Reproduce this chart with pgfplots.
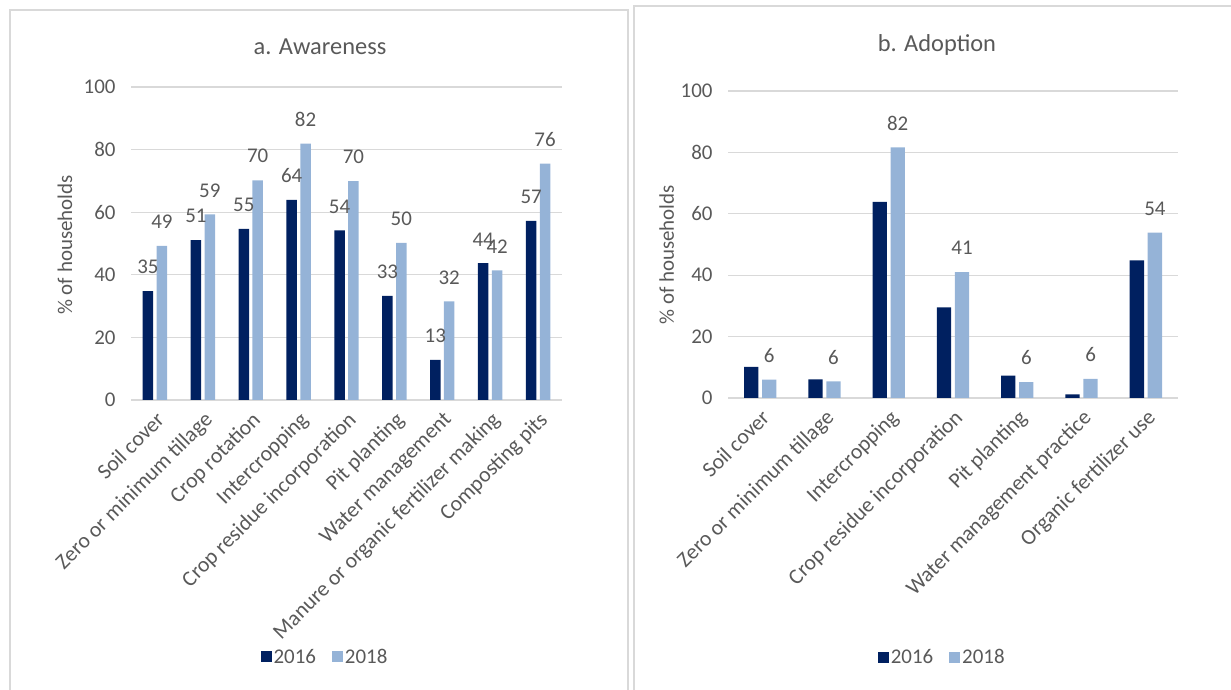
\documentclass[border=0pt]{standalone}
\usepackage{pgfplots}
\pgfplotsset{compat=1.18}
\usepackage{fontspec}
\setmainfont{Carlito}
\definecolor{navy}{HTML}{002060}
\definecolor{lblue}{HTML}{95B3D7}
\definecolor{tgray}{HTML}{595959}
\definecolor{ggray}{HTML}{D9D9D9}
\newcommand{\fs}{\fontsize{21}{25}\selectfont}
\newcommand{\fc}{\fontsize{21.8}{26}\selectfont}
\newcommand{\ft}{\fontsize{24.5}{29}\selectfont}
\pgfplotsset{
  sq/.style={legend image code/.code={\fill[##1] (-2bp,-5.5bp) rectangle (9bp,5.5bp);}},
  mybar/.style={
    scale only axis, anchor=south west,
    ymin=0, ymax=100, ytick={0,20,...,100},
    ymajorgrids, grid style={ggray, line width=1.2bp},
    axis line style={draw=none}, tick style={draw=none},
    tick label style={font=\fs, text=tgray},
    yticklabel style={xshift=-12bp},
    /pgf/number format/assume math mode=true,
    xtick=data,
    xticklabel style={font=\fc, xshift=0bp, yshift=-3bp, rotate=45, anchor=north east, inner sep=2bp},
    ylabel={\% of households},
    ylabel style={font=\fs, text=tgray, anchor=center},
    legend style={draw=none, fill=none, font=\fs, text=tgray, legend columns=2, anchor=center,
      /tikz/every even column/.append style={column sep=14bp}},
    nodes near coords style={font=\fs, text=tgray, inner sep=0pt, anchor=south, yshift=17bp},
  },
}
\begin{document}
\begin{tikzpicture}[x=1bp,y=1bp]
\useasboundingbox (0,0) rectangle (1231,690);
% panel frames
\draw[ggray, line width=1.5bp] (10,680) rectangle (628,-10);
\draw[ggray, line width=1.5bp] (634,684) rectangle (1240,-10);
% titles
\node[font=\ft, text=tgray, anchor=base] at (320,635) {a. Awareness};
\node[font=\ft, text=tgray, anchor=base] at (937,638) {b. Adoption};

\begin{axis}[mybar,
  at={(131bp,290bp)}, width=431bp, height=313bp,
  ybar=3.4bp, bar width=10.5bp,
  xmin=-0.5, xmax=8.5,
  xticklabels={Soil cover, Zero or minimum tillage, Crop rotation, Intercropping, Crop residue incorporation, Pit planting, Water management, Manure or organic fertilizer making, Composting pits},
  ylabel style={at={(axis description cs:-0.153,0.495)}},
  legend style={at={(axis description cs:0.45,-0.821)}},
]
\addplot[fill=navy, draw=none, sq, point meta=explicit symbolic, nodes near coords] coordinates {
 (0,34.8) [35] (1,51.1) [51] (2,54.7) [55] (3,63.9) [64] (4,54.2) [54]
 (5,33.3) [33] (6,12.8) [13] (7,43.7) [44] (8,57.2) [57]};
\addplot[fill=lblue, draw=none, sq, point meta=explicit symbolic, nodes near coords] coordinates {
 (0,49.2) [49] (1,59.3) [59] (2,70.2) [70] (3,81.9) [82] (4,69.9) [70]
 (5,50.2) [50] (6,31.5) [32] (7,41.4) [42] (8,75.5) [76]};
\legend{2016,2018}
\end{axis}

\begin{axis}[mybar,
  at={(728bp,292bp)}, width=450bp, height=307bp,
  ybar=3.7bp, bar width=14.3bp,
  xmin=-0.5, xmax=6.5,
  xticklabels={Soil cover, Zero or minimum tillage, Intercropping, Crop residue incorporation, Pit planting, Water management practice, Organic fertilizer use},
  ylabel style={at={(axis description cs:-0.136,0.466)}},
  legend style={at={(axis description cs:0.476,-0.844)}},
]
\addplot[fill=navy, draw=none, sq] coordinates {
 (0,10.1) (1,6.1) (2,63.9) (3,29.5) (4,7.3) (5,1.2) (6,44.8)};
\addplot[fill=lblue, draw=none, sq, point meta=explicit symbolic, nodes near coords] coordinates {
 (0,6.0) [6] (1,5.4) [6] (2,81.6) [82] (3,41.0) [41] (4,5.2) [6] (5,6.2) [6] (6,53.9) [54]};
\legend{2016,2018}
\end{axis}
\end{tikzpicture}
\end{document}
